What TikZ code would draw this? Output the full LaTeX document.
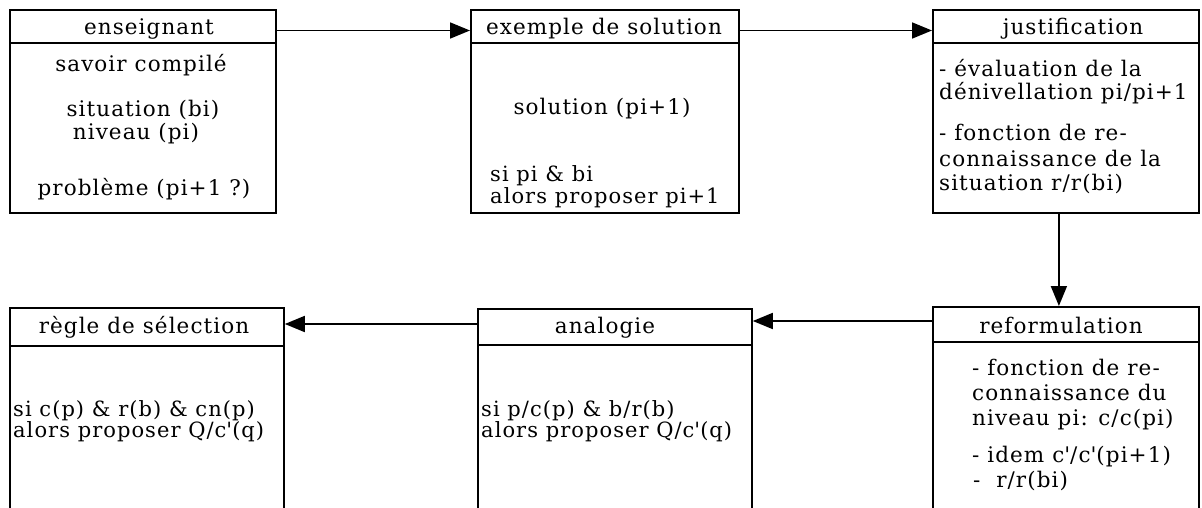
\documentclass[tikz,border=0pt]{standalone}
\usepackage{fontspec}
\setmainfont{DejaVu Serif}[LetterSpace=5]
\usetikzlibrary{arrows.meta}
\newcommand{\apo}{\textquotesingle}
\begin{document}
\begin{tikzpicture}[x=1pt,y=-1pt,
  font=\fontsize{21.5}{22}\selectfont,
  box/.style={draw, line width=1.8pt, rectangle, inner sep=0pt, anchor=north west},
  hline/.style={line width=1.8pt},
  txt/.style={inner sep=0pt, anchor=base},
  ltxt/.style={inner sep=0pt, anchor=base west},
  tight/.style={font=\fontsize{21}{22}\selectfont},
  arr/.style={-{Triangle[length=20pt,width=16pt]}, line width=1.8pt}]
\useasboundingbox (0,0) rectangle (1202,508);
\clip (0,0) rectangle (1202,508);
% boxes
\node[box, minimum width=266pt, minimum height=203pt] (ens) at (9,9) {};
\node[box, minimum width=268pt, minimum height=203pt] (ex) at (470,9) {};
\node[box, minimum width=266pt, minimum height=203pt] (jus) at (932,9) {};
\node[box, minimum width=274pt, minimum height=250pt] (reg) at (9,307) {};
\node[box, minimum width=274pt, minimum height=250pt] (ana) at (477,308) {};
\node[box, minimum width=266pt, minimum height=250pt] (ref) at (932,306) {};
% header lines
\draw[hline] ([yshift=-34pt]ens.north west) -- ([yshift=-34pt]ens.north east);
\draw[hline] ([yshift=-34pt]ex.north west) -- ([yshift=-34pt]ex.north east);
\draw[hline] ([yshift=-34pt]jus.north west) -- ([yshift=-34pt]jus.north east);
\draw[hline] ([yshift=-39pt]reg.north west) -- ([yshift=-39pt]reg.north east);
\draw[hline] ([yshift=-37pt]ana.north west) -- ([yshift=-37pt]ana.north east);
\draw[hline] ([yshift=-36pt]ref.north west) -- ([yshift=-36pt]ref.north east);
% connectors
\coordinate (c1) at ([yshift=-21.5pt]ens.north east);
\draw[arr] (c1) -- (c1 -| ex.west);
\coordinate (c2) at ([yshift=-21.5pt]ex.north east);
\draw[arr] (c2) -- (c2 -| jus.west);
\coordinate (c3) at ([xshift=-7pt]jus.south);
\draw[arr] (c3) -- (c3 |- ref.north);
\coordinate (c4) at ([yshift=-15pt]ref.north west);
\draw[arr] (c4) -- (c4 -| ana.east);
\coordinate (c5) at ([yshift=-16pt]ana.north west);
\draw[arr] (c5) -- (c5 -| reg.east);
% texts box 1
\node[txt] (t1a) at (149,35) {enseignant};
\node[txt] (t1b) at (141,72) {savoir compilé};
\node[txt] (t1c) at (143,117) {situation (bi)};
\node[txt] (t1d) at (136,140) {niveau (pi)};
\node[txt] (t1e) at (144,195) {problème (pi+1 ?)};
% box 2
\node[txt] (t2a) at (604,35) {exemple de solution};
\node[txt] (t2b) at (602,115) {solution (pi+1)};
\node[ltxt,tight] (t2c) at (490,182) {si pi \& bi};
\node[ltxt,tight] (t2d) at (490,203) {alors proposer pi+1};
% box 3
\node[txt] (t3a) at (1073,35) {justification};
\node[ltxt] (t3b) at (939,77) {- évaluation de la};
\node[ltxt] (t3c) at (939,100) {dénivellation pi/pi+1};
\node[ltxt] (t3d) at (939,141) {- fonction de re-};
\node[ltxt] (t3e) at (939,167) {connaissance de la};
\node[ltxt] (t3f) at (939,190) {situation r/r(bi)};
% box 4
\node[txt] (t4a) at (144,333) {règle de sélection};
\node[ltxt,tight] (t4b) at (13,416) {si c(p) \& r(b) \& cn(p)};
\node[ltxt,tight] (t4c) at (13,437) {alors proposer Q/c\apo(q)};
% box 5
\node[txt] (t5a) at (605,333) {analogie};
\node[ltxt,tight] (t5b) at (481,416) {si p/c(p) \& b/r(b)};
\node[ltxt,tight] (t5c) at (481,437) {alors proposer Q/c\apo(q)};
% box 6
\node[txt] (t6a) at (1061,333) {reformulation};
\node[ltxt] (t6b) at (972,375) {- fonction de re-};
\node[ltxt] (t6c) at (972,400) {connaissance du};
\node[ltxt] (t6d) at (972,425) {niveau pi: c/c(pi)};
\node[ltxt] (t6e) at (972,462) {- idem c\apo/c\apo(pi+1)};
\node[ltxt] (t6f) at (973,487) {-\ \ r/r(bi)};
\end{tikzpicture}
\end{document}
